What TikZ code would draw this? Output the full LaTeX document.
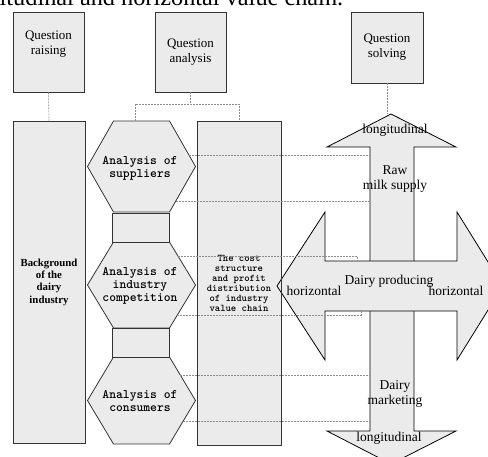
\documentclass[tikz,border=0pt]{standalone}
\usepackage{fontspec}
\setmainfont{Liberation Serif}
\newfontfamily\hexfont{lmmonolt10-bold.otf}
\begin{document}
\begin{tikzpicture}[x=1pt,y=-1pt,
  box/.style={draw=black!80, fill=black!8, line width=.8pt},
  qbox/.style={box, minimum width=71pt, minimum height=80pt, inner sep=0pt},
  qtext/.style={align=center, font=\fontsize{13}{15}\selectfont},
  hextext/.style={align=center, inner sep=0pt, font=\fontsize{13}{13}\selectfont\hexfont},
  arrowtext/.style={align=center, inner sep=0pt, font=\fontsize{13.5}{15}\selectfont},
  link/.style={draw=black!45, line width=.6pt, dash pattern=on 2pt off 1pt}]
\useasboundingbox (0,0) rectangle (488,456);
\clip (0,0) rectangle (488,456);

% caption cut off at the top
\node[anchor=base west, inner sep=0pt, font=\fontsize{24.3}{26}\selectfont] (caption) at (-0.5,5) {itudinal and horizontal value chain.};

% the three steps
\node[qbox] (qr) at (48.5,52) {};
\node[qtext] (qrtext) at (48.5,44.5) {Question\\raising};
\node[qbox, qtext] (qa) at (190.5,52) {Question\\analysis};
\node[qbox, qtext, minimum width=72pt, minimum height=71pt] (qs) at (387,47.5) {Question\\solving};

% columns
\node[box, minimum width=72pt, minimum height=322pt, align=center, font=\fontsize{10.8}{12.3}\selectfont\bfseries] (bg) at (49,282) {Background\\of the\\dairy\\industry};
\node[box, minimum width=84pt, minimum height=324pt, align=center, font=\fontsize{10.2}{10}\selectfont\hexfont] (cost) at (239,283) {The cost\\structure\\and profit\\distribution\\of industry\\value chain};

% hexagons and the blocks between them
\foreach \t/\b in {121/212, 242/328, 357/444}
  \draw[box] (113.5,\t) -- (169.5,\t) -- (195.5,{(\t+\b)/2}) -- (169.5,\b) -- (113.5,\b) -- (87.5,{(\t+\b)/2}) -- cycle;
\node[box, minimum width=57pt, minimum height=29pt, inner sep=0pt] (neck1) at (140.5,227.5) {};
\node[box, minimum width=57pt, minimum height=29pt, inner sep=0pt] (neck2) at (140.5,342.5) {};
\node[hextext] (sup) at (140,168.5) {Analysis of\\suppliers};
\node[hextext] (comp) at (140,286) {Analysis of\\industry\\competition};
\node[hextext] (cons) at (140,400.5) {Analysis of\\consumers};

% value chain cross
\draw[box, draw=black] (391,114) -- (456,147) -- (414,147) -- (414,431) -- (456,431) -- (391,464) -- (327,431) -- (370,431) -- (370,147) -- (327,147) -- cycle;
\draw[box, draw=black] (277,286) -- (325,212) -- (325,261) -- (457,261) -- (457,212) -- (503,286) -- (457,360) -- (457,311) -- (325,311) -- (325,360) -- cycle;
\draw[box] (cost.north east) -- (cost.south east);

\node[arrowtext] (up) at (395,130) {longitudinal};
\node[arrowtext] (raw) at (395,179.5) {Raw\\milk supply};
\node[arrowtext] (prod) at (389,281) {Dairy producing};
\node[arrowtext] (hl) at (314,291) {horizontal};
\node[arrowtext] (hr) at (456,291) {horizontal};
\node[arrowtext] (mkt) at (395,394) {Dairy\\marketing};
\node[arrowtext] (down) at (389,438) {longitudinal};

\coordinate (vtip) at (391,114);
\coordinate (vl) at (370,0);
\coordinate (ht) at (357,261);
\coordinate (hb) at (361,311);
\coordinate (fork) at (190.5,104);
\coordinate (h1top) at (135,121);

% dashed links
\draw[link] (qr.south) -- (bg.north);
\draw[link] (qa.south) -- (fork);
\draw[link] (h1top) |- (fork) -| (cost.north);
\draw[link] (qs.south) -- (qs.south |- vtip);
\draw[link] (188.9,155) -- (vl |- 0,155);
\draw[link] (175.8,201) -- (vl |- 0,201);
\draw[link] (178,256) -| (ht);
\draw[link] (177.4,315) -| (hb);
\draw[link] (180.3,375) -- (vl |- 0,375);
\draw[link] (183.2,421) -- (vl |- 0,421);
\end{tikzpicture}
\end{document}
